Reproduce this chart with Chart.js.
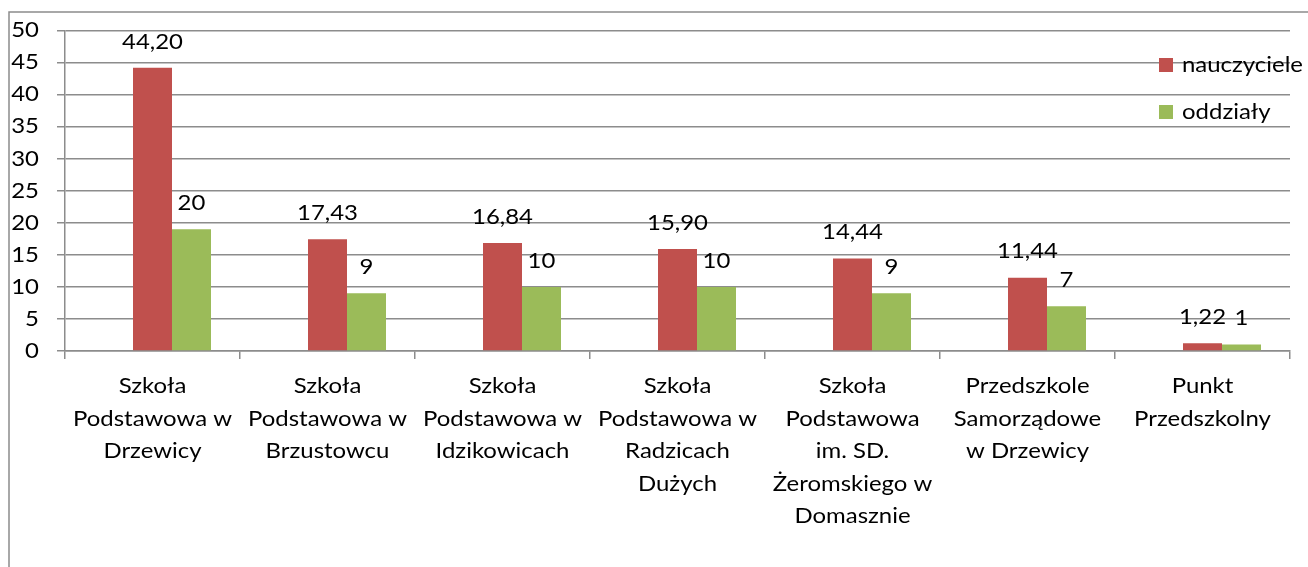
<!DOCTYPE html>
<html><head><meta charset="utf-8">
<script src="https://cdn.jsdelivr.net/npm/chart.js@4"></script>
<style>html,body{margin:0;padding:0;background:#fff}#wrap{width:1308px;height:567px;position:relative}</style>
</head><body><div id="wrap"><canvas id="c" width="1308" height="567"></canvas></div>
<script>
const categories = [
  ['Szkoła','Podstawowa w','Drzewicy'],
  ['Szkoła','Podstawowa w','Brzustowcu'],
  ['Szkoła','Podstawowa w','Idzikowicach'],
  ['Szkoła','Podstawowa w','Radzicach','Dużych'],
  ['Szkoła','Podstawowa','im. SD.','Żeromskiego w','Domasznie'],
  ['Przedszkole','Samorządowe','w Drzewicy'],
  ['Punkt','Przedszkolny']
];
const seriesNames = ['nauczyciele','oddziały'];
const teachers = [44.2, 17.43, 16.84, 15.9, 14.44, 11.44, 1.22];
const classes = [19, 9, 10, 10, 9, 7, 1];
const teacherLabels = ['44,20','17,43','16,84','15,90','14,44','11,44','1,22'];
const classLabels = ['20','9','10','10','9','7','1'];
const yMin = 0, yMax = 50, yStep = 5;

const FONT = 'Lato';
const FS = 21;
const SX = 1.14; // horizontal text stretch seen in the reference
const GRID = '#8c8c8c';
const RED = '#C0504D', GREEN = '#9BBB59';

const canvas = document.getElementById('c');
const c2d = canvas.getContext('2d');
const origFillText = c2d.fillText;
c2d.fillText = function (t, x, y, maxW) {
  this.save();
  this.translate(x, y);
  this.scale(SX, 1);
  origFillText.call(this, t, 0, 0);
  this.restore();
};

const framePlugin = {
  id: 'frame',
  beforeDraw(chart) {
    const ctx = chart.ctx;
    ctx.save();
    ctx.strokeStyle = GRID;
    ctx.lineWidth = 1.5;
    ctx.beginPath();
    ctx.moveTo(9, 567); ctx.lineTo(9, 12); ctx.lineTo(1308, 12);
    ctx.stroke();
    ctx.restore();
  }
};

const valuePlugin = {
  id: 'values',
  afterDatasetsDraw(chart) {
    const ctx = chart.ctx;
    ctx.save();
    ctx.font = FS + 'px ' + FONT;
    ctx.fillStyle = '#000';
    ctx.textAlign = 'center';
    ctx.textBaseline = 'middle';
    const sets = [[1, teacherLabels], [2, classLabels]];
    sets.forEach(([di, labels]) => {
      const meta = chart.getDatasetMeta(di);
      meta.data.forEach((bar, i) => {
        ctx.fillText(labels[i], bar.x, bar.y - 26);
      });
    });
    ctx.restore();
  }
};

const legendPlugin = {
  id: 'customLegend',
  afterDraw(chart) {
    const ctx = chart.ctx;
    ctx.save();
    ctx.font = FS + 'px ' + FONT;
    ctx.textBaseline = 'middle';
    ctx.textAlign = 'left';
    const items = [[seriesNames[0], RED, 65], [seriesNames[1], GREEN, 112]];
    items.forEach(([t, c, y]) => {
      ctx.fillStyle = c;
      ctx.fillRect(1159, y - 7, 14, 14);
      ctx.fillStyle = '#000';
      ctx.fillText(t, 1182, y);
    });
    ctx.restore();
  }
};

new Chart(canvas, {
  type: 'bar',
  data: {
    labels: categories,
    datasets: [
      { label: '', data: categories.map(() => null), backgroundColor: 'rgba(0,0,0,0)' },
      { label: seriesNames[0], data: teachers, backgroundColor: RED },
      { label: seriesNames[1], data: classes, backgroundColor: GREEN }
    ]
  },
  options: {
    responsive: false,
    animation: false,
    devicePixelRatio: 1,
    layout: { padding: { top: 28, right: 18, left: 0, bottom: 0 } },
    datasets: { bar: { categoryPercentage: 117/175, barPercentage: 1.0 } },
    plugins: { legend: { display: false }, tooltip: { enabled: false } },
    scales: {
      x: {
        grid: { display: true, drawOnChartArea: false, offset: true, tickLength: 8, color: GRID, lineWidth: 1.5 },
        border: { display: true, color: GRID, width: 1.5 },
        ticks: { color: '#000', font: { family: FONT, size: FS, lineHeight: 1.55 }, padding: 11, maxRotation: 0, minRotation: 0, autoSkip: false },
        afterFit(s) { s.height = 216; }
      },
      y: {
        min: yMin, max: yMax,
        grid: { color: GRID, lineWidth: 1.5, tickLength: 8 },
        border: { display: true, color: GRID, width: 1.5 },
        ticks: { stepSize: yStep, color: '#000', font: { family: FONT, size: FS }, padding: 18 },
        afterFit(s) { s.width = 65; }
      }
    }
  },
  plugins: [framePlugin, valuePlugin, legendPlugin]
});
</script>
</body></html>
